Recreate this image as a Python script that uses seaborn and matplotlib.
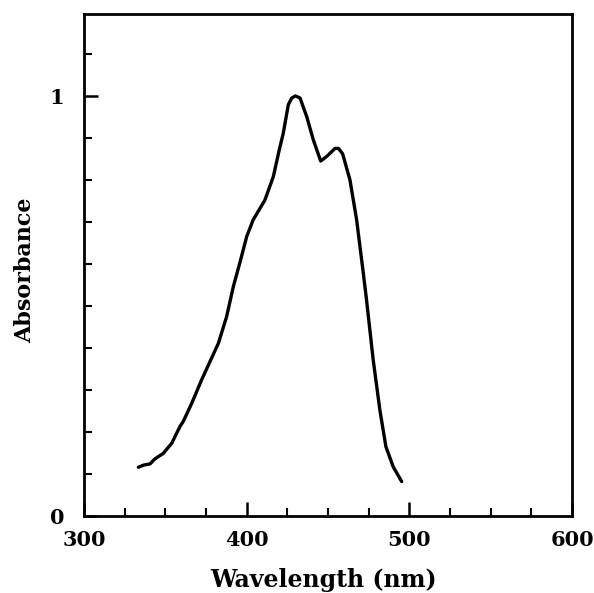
import matplotlib
matplotlib.use("Agg")
import matplotlib.pyplot as plt
import seaborn as sns
import pandas as pd
from matplotlib.ticker import MultipleLocator

# Data
wavelength = [333.4, 336.5, 340.6, 343.6, 348.7, 353.9, 359.0, 361.0, 366.2, 372.3,
              382.6, 387.7, 391.8, 396.3, 400.0, 404.0, 411.2, 416.4, 420.0, 422.5,
              425.6, 427.7, 430.0, 432.8, 436.9, 441.0, 445.5, 449.2, 454.3, 456.5,
              459.0, 463.5, 467.6, 471.7, 473.7, 477.8, 481.9, 485.6, 490.1, 495.3]
absorbance = [0.116, 0.121, 0.124, 0.136, 0.149, 0.173, 0.213, 0.225, 0.268, 0.324,
              0.411, 0.475, 0.546, 0.610, 0.665, 0.705, 0.752, 0.808, 0.871, 0.911,
              0.979, 0.995, 1.000, 0.995, 0.951, 0.895, 0.845, 0.856, 0.875, 0.875,
              0.862, 0.800, 0.705, 0.578, 0.514, 0.371, 0.252, 0.165, 0.117, 0.082]

x_major = [300, 400, 500, 600]
y_major = [0, 1]

df = pd.DataFrame({"Wavelength": wavelength, "Absorbance": absorbance})

sns.set_style("ticks")
plt.rcParams["font.family"] = ["DejaVu Serif"]
plt.rcParams["font.weight"] = "bold"
plt.rcParams["text.color"] = "black"
plt.rcParams["axes.labelcolor"] = "black"
plt.rcParams["xtick.color"] = "black"
plt.rcParams["ytick.color"] = "black"

fig = plt.figure(figsize=(5.94, 5.93), dpi=100)
ax = fig.add_axes([84 / 594, 1 - 516 / 593, (572 - 84) / 594, (516 - 14) / 593])

sns.lineplot(data=df, x="Wavelength", y="Absorbance", ax=ax, color="black",
             linewidth=2.4, sort=False)

ax.set_xlim(300, 600)
ax.set_ylim(0, 1.195)
ax.set_xticks(x_major)
ax.set_yticks(y_major)
ax.set_xticklabels([str(v) for v in x_major], fontsize=15, fontweight="bold")
ax.set_yticklabels([str(v) for v in y_major], fontsize=15, fontweight="bold")
ax.xaxis.set_minor_locator(MultipleLocator(25))
ax.yaxis.set_minor_locator(MultipleLocator(0.1))
ax.tick_params(which="major", direction="in", length=10, width=1.8, pad=10)
ax.tick_params(which="minor", direction="in", length=6, width=1.5)
ax.tick_params(axis="y", which="major", pad=14)

for side in ["left", "right", "top", "bottom"]:
    ax.spines[side].set_visible(True)
    ax.spines[side].set_linewidth(2)
    ax.spines[side].set_color("black")

ax.set_xlabel("Wavelength (nm)", fontsize=17, fontweight="bold")
ax.set_ylabel("Absorbance", fontsize=16, fontweight="bold")
ax.xaxis.set_label_coords((324 - 84) / 488, (516 - 580) / 502)
ax.yaxis.set_label_coords((25 - 84) / 488, (516 - 270) / 502)
ax.xaxis.label.set_verticalalignment("center")
ax.yaxis.label.set_verticalalignment("center")
ax.grid(False)

fig.savefig("out.png", dpi=100, facecolor="white")
